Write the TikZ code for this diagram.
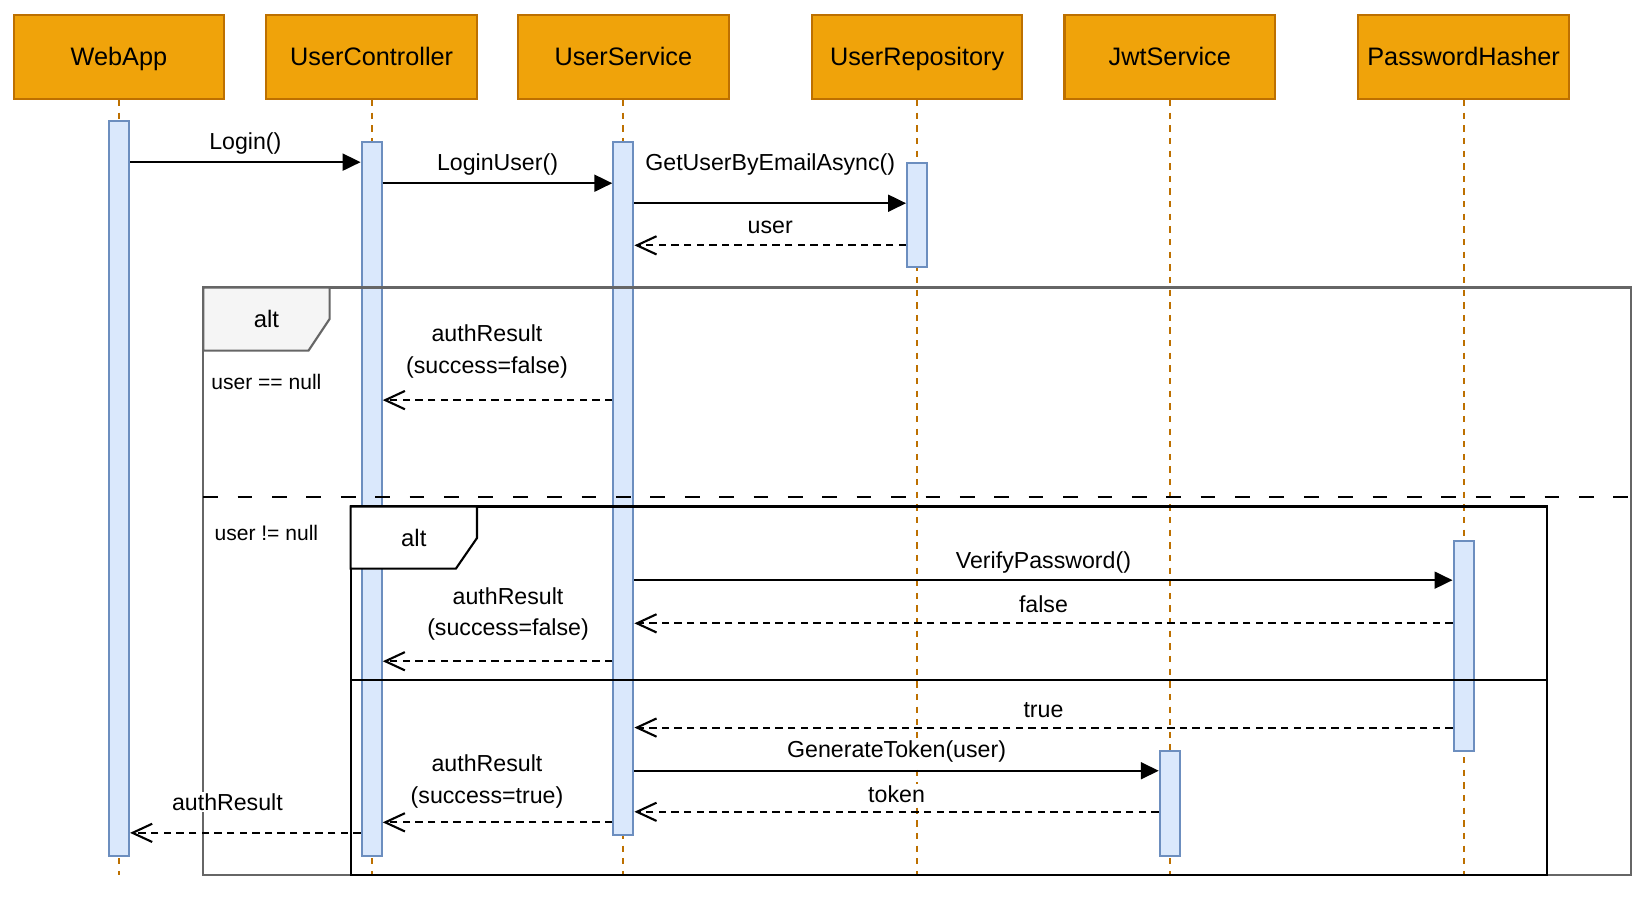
\documentclass[tikz,border=0pt]{standalone}
\usepackage{fontspec}
\setmainfont{Liberation Sans}
\usetikzlibrary{arrows.meta}
\definecolor{hdrfill}{HTML}{F0A30A}
\definecolor{hdrline}{HTML}{BD7000}
\definecolor{barfill}{HTML}{DAE8FC}
\definecolor{barline}{HTML}{6C8EBF}
\definecolor{frameline}{HTML}{666666}
\definecolor{tagfill}{HTML}{F5F5F5}

\begin{document}
\begin{tikzpicture}[x=0.75pt,y=-0.75pt,
  head/.style={draw=hdrline,fill=hdrfill,line width=1.5pt,minimum width=150pt,minimum height=60pt,inner sep=0pt,text height=13pt,text depth=0pt,font=\fontsize{18}{20}\selectfont},
  life/.style={draw=hdrline,line width=1.5pt,dash pattern=on 4.5pt off 4.5pt},
  bar/.style={draw=barline,fill=barfill,line width=1.5pt,minimum width=14.25pt,inner sep=0pt,anchor=north},
  call/.style={line width=1.5pt,-{Triangle[length=12.75pt,width=12pt]}},
  reply/.style={line width=1.5pt,dash pattern=on 5.25pt off 3.75pt,-{Straight Barb[length=14pt,width=13pt]}},
  lbl/.style={fill=white,inner sep=1pt,align=center,font=\fontsize{16.5}{22.5}\selectfont},
  guard/.style={font=\fontsize{15}{18}\selectfont},
  tag/.style={font=\fontsize{17}{20}\selectfont}]

\useasboundingbox (0,0) rectangle (1568,852);

\node[head] (webapp) at (113,54) {WebApp};
\node[head] (ctrl) at (353,54) {UserController};
\node[head] (service) at (592,54) {UserService};
\node[head] (repo) at (871,54) {UserRepository};
\node[head] (jwt) at (1111,54) {JwtService};
\node[head] (hasher) at (1390,54) {PasswordHasher};

\draw[life] (webapp.south) -- ++(0,736);
\draw[life] (ctrl.south) -- ++(0,736);
\draw[life] (service.south) -- ++(0,736);
\draw[life] (repo.south) -- ++(0,736);
\draw[life] (jwt.south) -- ++(0,736);
\draw[life] (hasher.south) -- ++(0,736);

\node[bar,minimum height=523.5pt] (wabar) at (113,114) {};
\node[bar,minimum height=508.5pt] (ctrlbar) at (353,134) {};
\node[bar,minimum height=493.5pt] (servbar) at (592,134) {};
\node[bar,minimum height=74.25pt] (repobar) at (871,154) {};
\node[bar,minimum height=75pt] (jwtbar) at (1111,712) {};
\node[bar,minimum height=149.25pt] (hashbar) at (1390,513) {};

% outer alt
\draw[frameline,line width=1.5pt] (193,273) rectangle (1549,831);
\draw[frameline,line width=1.5pt,fill=tagfill] (193,273) -- (313,273) -- (313,303) -- (293,333) -- (193,333) -- cycle;
\node[tag] (outeralt) at (253,303) {alt};
\node[guard] (nullcase) at (253,363) {user == null};
\draw[line width=1.5pt,dash pattern=on 10.5pt off 14pt] (193,472) -- (1549,472);
\node[guard] (usercase) at (253,506) {user != null};

% inner alt
\draw[line width=1.5pt] (333,481) rectangle (1469,831);
\draw[line width=1.5pt,fill=white] (333,481) -- (453,481) -- (453,511) -- (433,540) -- (333,540) -- cycle;
\node[tag] (inneralt) at (393,511) {alt};
\draw[line width=1.5pt] (333,646) -- (1469,646);

\draw[call] (wabar.east |- 0,154) -- (ctrlbar.west |- 0,154) node[lbl,midway,yshift=13.5pt] (loginlbl) {Login()};
\draw[call] (ctrlbar.east |- 0,174) -- (servbar.west |- 0,174) node[lbl,midway,yshift=13.5pt] (loginuserlbl) {LoginUser()};
\draw[call] (servbar.east |- 0,193) -- (repobar.west |- 0,193) node[lbl,midway,yshift=27.75pt] (getuserlbl) {GetUserByEmailAsync()};
\draw[reply] (repobar.west |- 0,233) -- (servbar.east |- 0,233) node[lbl,midway,yshift=12.75pt] (userlbl) {user};
\draw[reply] (servbar.west |- 0,380) -- (ctrlbar.east |- 0,380) node[lbl,midway,xshift=-7.5pt,yshift=34.5pt] (nulllbl) {authResult\\(success=false)};

\draw[call] (servbar.east |- 0,551) -- (hashbar.west |- 0,551) node[lbl,midway,yshift=12.75pt] (verifylbl) {VerifyPassword()};
\draw[reply] (hashbar.west |- 0,592) -- (servbar.east |- 0,592) node[lbl,midway,yshift=13.5pt] (falselbl) {false};
\draw[reply] (servbar.west |- 0,628) -- (ctrlbar.east |- 0,628) node[lbl,midway,xshift=7.5pt,yshift=33.75pt] (badpwlbl) {authResult\\(success=false)};
\draw[reply] (hashbar.west |- 0,691) -- (servbar.east |- 0,691) node[lbl,midway,yshift=12.75pt] (truelbl) {true};
\draw[call] (servbar.east |- 0,732) -- (jwtbar.west |- 0,732) node[lbl,midway,yshift=13.5pt] (tokencalllbl) {GenerateToken(user)};
\draw[reply] (jwtbar.west |- 0,771) -- (servbar.east |- 0,771) node[lbl,midway,yshift=12.75pt] (tokenlbl) {token};
\draw[reply] (servbar.west |- 0,781) -- (ctrlbar.east |- 0,781) node[lbl,midway,xshift=-7.5pt,yshift=29.25pt] (oklbl) {authResult\\(success=true)};
\draw[reply] (ctrlbar.west |- 0,791) -- (wabar.east |- 0,791) node[lbl,midway,xshift=-12.75pt,yshift=21.75pt] (resultlbl) {authResult};
\end{tikzpicture}
\end{document}
